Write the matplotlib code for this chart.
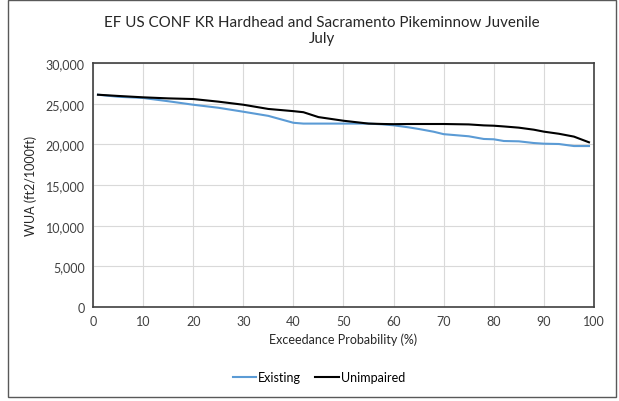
"""
Exceedance curve of WUA for Existing vs Unimpaired conditions (July).
"""

import matplotlib
matplotlib.use("Agg")
import matplotlib.pyplot as plt
from matplotlib.patches import Rectangle
from matplotlib.ticker import FuncFormatter

# ── Data ──────────────────────────────────────────────────────────────────────

exceed_pct = [1, 5, 10, 15, 20, 25, 30, 35, 40, 42, 45, 50, 55, 58, 60, 63,
              65, 68, 70, 75, 78, 80, 82, 85, 88, 90, 93, 96, 99]

existing = [26100, 25850, 25700, 25300, 24870, 24500, 24010, 23500, 22650,
            22550, 22550, 22550, 22550, 22450, 22340, 22090, 21890, 21550,
            21250, 20990, 20660, 20620, 20410, 20370, 20160, 20080, 20040,
            19790, 19790]

unimpaired = [26100, 25950, 25780, 25650, 25570, 25250, 24870, 24350, 24080,
              23950, 23350, 22900, 22550, 22500, 22480, 22500, 22500, 22500,
              22500, 22450, 22330, 22290, 22200, 22050, 21800, 21560, 21300,
              20950, 20250]

x_ticks = list(range(0, 101, 10))
y_ticks = list(range(0, 30001, 5000))

TITLE = "EF US CONF KR Hardhead and Sacramento Pikeminnow Juvenile\nJuly"

# ── Plot ──────────────────────────────────────────────────────────────────────

plt.rcParams["font.family"] = ["Lato", "DejaVu Sans"]

fig = plt.figure(figsize=(6.19, 4.02), dpi=100)
ax = fig.add_axes([0.1502, 0.2338, 0.8094, 0.607])

ax.plot(exceed_pct, existing, color="#5b9bd5", linewidth=1.5, label="Existing")
ax.plot(exceed_pct, unimpaired, color="black", linewidth=1.5, label="Unimpaired")

ax.set_xlim(0, 100)
ax.set_ylim(0, 30000)
ax.set_xticks(x_ticks)
ax.set_yticks(y_ticks)
ax.yaxis.set_major_formatter(FuncFormatter(lambda v, _: f"{int(v):,}"))
ax.tick_params(length=0, labelsize=9, colors="#404040", pad=6)
ax.grid(True, color="#d9d9d9", linewidth=0.8)
ax.set_axisbelow(True)
for s in ax.spines.values():
    s.set_color("#404040")
    s.set_linewidth(1.2)

ax.set_xlabel("Exceedance Probability (%)", fontsize=9, color="#262626", labelpad=4)
ax.set_ylabel("WUA (ft2/1000ft)", fontsize=9, color="#262626", labelpad=6)
fig.text(0.52, 0.922, TITLE, ha="center", va="center", fontsize=10.9,
         color="#262626", linespacing=1.2)

fig.legend(*ax.get_legend_handles_labels(), loc="center",
           bbox_to_anchor=(0.515, 0.06), ncol=2, frameon=False, fontsize=9,
           handlelength=1.9, columnspacing=1.1, handletextpad=0.15)

fig.patches.append(Rectangle((8 / 619, 4 / 402), 608 / 619, 397 / 402,
                             transform=fig.transFigure, fill=False,
                             edgecolor="#595959", linewidth=1.0))

fig.savefig("out.png", dpi=100)
